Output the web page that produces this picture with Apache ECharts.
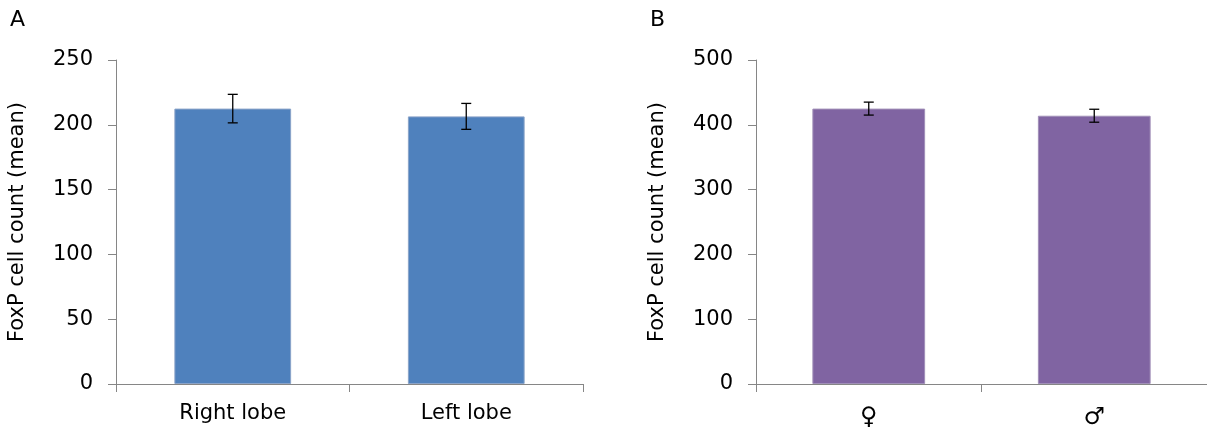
<!DOCTYPE html>
<html><head><meta charset="utf-8">
<script src="https://cdn.jsdelivr.net/npm/echarts@6/dist/echarts.min.js"></script>
<style>html,body{margin:0;padding:0;background:#fff}#c{width:1207px;height:431px}</style>
</head><body><div id="c"></div>
<script>
const catsA = ['Right lobe', 'Left lobe'];
const meanA = [212.5, 206.5];
const errA = [11, 10];
const catsB = ['♀', '♂'];
const meanB = [425, 414];
const errB = [10, 10];
const yTicksA = {min: 0, max: 250, interval: 50};
const yTicksB = {min: 0, max: 500, interval: 100};
const axisName = 'FoxP cell count (mean)';

const FONT = '"DejaVu Sans", "Liberation Sans", Arial, sans-serif';
const axisCol = '#868686';

function xAxis(idx, cats, fs, mg) {
  return {
    type: 'category', gridIndex: idx, data: cats,
    axisLine: {lineStyle: {color: axisCol, width: 1}},
    axisTick: {show: true, length: 8, lineStyle: {color: axisCol}},
    axisLabel: {color: '#000', fontSize: fs, fontFamily: FONT, margin: mg}
  };
}
function yAxis(idx, t) {
  return {
    type: 'value', gridIndex: idx, min: t.min, max: t.max, interval: t.interval,
    name: axisName, nameLocation: 'middle', nameGap: 88,
    nameTextStyle: {color: '#000', fontSize: 21, fontFamily: FONT},
    axisLine: {show: true, lineStyle: {color: axisCol, width: 1}},
    axisTick: {show: true, length: 8, lineStyle: {color: axisCol}},
    axisLabel: {color: '#000', fontSize: 21, fontFamily: FONT, margin: 23},
    splitLine: {show: false}
  };
}
function errSeries(idx, means, errs) {
  return {
    type: 'custom', xAxisIndex: idx, yAxisIndex: idx, z: 10,
    data: means.map((m, i) => [i, m - errs[i], m + errs[i]]),
    renderItem: function (params, api) {
      const lo = api.coord([api.value(0), api.value(1)]);
      const hi = api.coord([api.value(0), api.value(2)]);
      const w = 5;
      const st = {stroke: '#000', lineWidth: 1.3};
      return {type: 'group', children: [
        {type: 'line', shape: {x1: hi[0], y1: hi[1], x2: lo[0], y2: lo[1]}, style: st},
        {type: 'line', shape: {x1: hi[0] - w, y1: hi[1], x2: hi[0] + w, y2: hi[1]}, style: st},
        {type: 'line', shape: {x1: lo[0] - w, y1: lo[1], x2: lo[0] + w, y2: lo[1]}, style: st}
      ]};
    }
  };
}

const chart = echarts.init(document.getElementById('c'));
const titleStyle = {fontSize: 22, fontWeight: 'normal', color: '#000', fontFamily: FONT};
chart.setOption({
  animation: false,
  textStyle: {fontFamily: FONT},
  title: [
    {text: 'A', left: 5, top: 4, textStyle: titleStyle},
    {text: 'B', left: 645, top: 4, textStyle: titleStyle}
  ],
  grid: [
    {left: 116, top: 60, width: 467, height: 324},
    {left: 756, top: 60, width: 454, height: 324}
  ],
  xAxis: [xAxis(0, catsA, 21, 19), xAxis(1, catsB, 24, 22)],
  yAxis: [yAxis(0, yTicksA), yAxis(1, yTicksB)],
  series: [
    {type: 'bar', xAxisIndex: 0, yAxisIndex: 0, data: meanA, barWidth: '50%',
     itemStyle: {color: '#4F81BD', borderColor: '#8aa3c8', borderWidth: 1}},
    {type: 'bar', xAxisIndex: 1, yAxisIndex: 1, data: meanB, barWidth: '50%',
     itemStyle: {color: '#8064A2', borderColor: '#a08fb8', borderWidth: 1}},
    errSeries(0, meanA, errA),
    errSeries(1, meanB, errB)
  ]
});
</script></body></html>
